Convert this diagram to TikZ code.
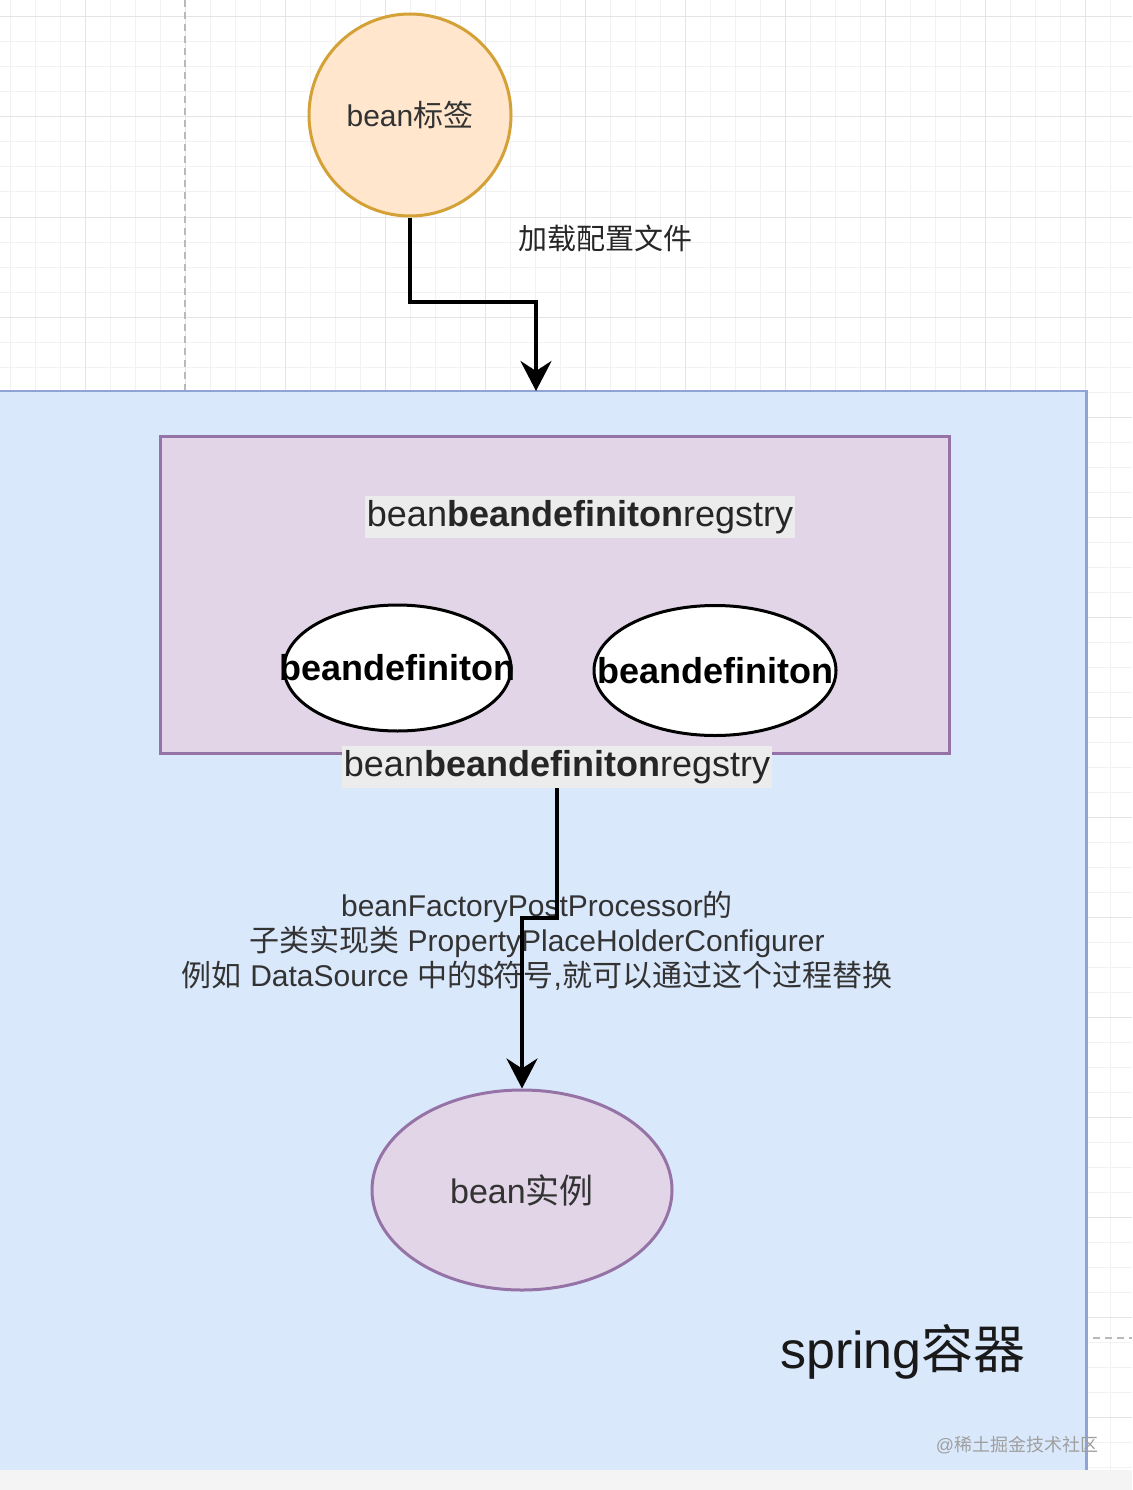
\documentclass[tikz,border=0pt]{standalone}
\usepackage{fontspec}
\setmainfont{Liberation Sans}
\newfontfamily\cjk{Noto Sans CJK SC}
\usetikzlibrary{arrows.meta,shapes.geometric}
\definecolor{gridminor}{HTML}{F2F2F2}
\definecolor{gridmajor}{HTML}{E4E4E4}
\definecolor{blueFill}{HTML}{DAE8FC}
\definecolor{blueLine}{HTML}{8FA3D6}
\definecolor{purpFill}{HTML}{E1D5E7}
\definecolor{purpLine}{HTML}{9673A6}
\definecolor{orgFill}{HTML}{FFE6CC}
\definecolor{orgLine}{HTML}{D4A137}
\definecolor{labBg}{HTML}{ECECEC}
\definecolor{txt}{HTML}{333333}
\newcommand{\zh}[1]{{\cjk #1}}
\tikzset{
  minorline/.style={draw=gridminor, line width=1pt},
  majorline/.style={draw=gridmajor, line width=1pt},
  guide/.style={draw=gray!55, line width=1.8pt, dash pattern=on 7pt off 5pt},
  flowarrow/.style={draw=black, line width=3.8pt, -{Stealth[length=30pt,width=31pt,inset=10pt]}},
  defell/.style={ellipse, draw=black, fill=white, line width=3pt, inner sep=0pt,
     font=\fontsize{36}{40}\selectfont\bfseries},
  reglab/.style={fill=labBg, inner xsep=2pt, inner ysep=4pt, font=\fontsize{36}{40}\selectfont, text=black!85},
  desc/.style={text=txt, align=center, font=\fontsize{30}{35}\selectfont},
}
\begin{document}
\begin{tikzpicture}[x=1pt,y=-1pt]
\useasboundingbox (0,0) rectangle (1132,1490);
\fill[white] (0,0) rectangle (1132,1490);
% grid
\foreach \x in {10,35,...,1132} \draw[minorline] (\x,0) -- (\x,1490);
\foreach \y in {17,42,...,1490} \draw[minorline] (0,\y) -- (1132,\y);
\foreach \x in {85,185,...,1132} \draw[majorline] (\x,0) -- (\x,1490);
\foreach \y in {17,117,...,1490} \draw[majorline] (0,\y) -- (1132,\y);
% dashed guides
\draw[guide] (185,0) -- (185,391);
\draw[guide] (1093,1338) -- (1132,1338);

% spring container
\node[fill=blueFill, minimum width=1096pt, minimum height=1079pt,
      anchor=north west, inner sep=0pt] (spring) at (-10,391) {};
\draw[blueLine, line width=2.5pt] (spring.north west) -- (spring.north east) -- (spring.south east);
\fill[gray!9] (0,1470) rectangle (1132,1490);
\node[anchor=center, text=black!90, font=\fontsize{52}{56}\selectfont] (springlab) at (903,1352) {spring\zh{容器}};
\node[text=gray!75, font=\fontsize{18}{20}\selectfont] (wm) at (1017,1445) {@\zh{稀土掘金技术社区}};

% registry
\node[draw=purpLine, fill=purpFill, line width=3pt, minimum width=789pt, minimum height=317pt,
      anchor=north west, inner sep=0pt] (reg) at (159,435) {};
\node[reglab] (lab1) at (580,517) {bean\textbf{beandefiniton}regstry};
\node[defell, minimum width=227pt, minimum height=126pt] (def1) at (397.5,668) {\makebox[0pt][c]{beandefiniton}};
\node[defell, minimum width=242pt, minimum height=130pt] (def2) at (715,670.5) {\makebox[0pt][c]{beandefiniton}};
\node[reglab] (lab2) at (557,767) {bean\textbf{beandefiniton}regstry};

% bean tag
\node[circle, draw=orgLine, fill=orgFill, line width=3pt, minimum size=202pt, inner sep=0pt,
      text=txt, font=\fontsize{30}{34}\selectfont] (tag) at (410,115) {bean\zh{标签}};
\node[text=black!85, font=\fontsize{29}{32}\selectfont] (loadlab) at (605,238) {\zh{加载配置文件}};

% bean instance
\node[ellipse, draw=purpLine, fill=purpFill, line width=3pt, minimum width=300pt, minimum height=200pt,
      inner sep=0pt, text=txt, font=\fontsize{34}{38}\selectfont] (inst) at (522,1190) {bean\zh{实例}};

% description
\node[desc] (desc) at (537,941) {beanFactoryPostProcessor\zh{的}\\
  \zh{子类实现类} PropertyPlaceHolderConfigurer\\
  \zh{例如} DataSource \zh{中的}\$\zh{符号},\zh{就可以通过这个过程替换}};

% connectors
\coordinate (j1) at (536,302);
\draw[flowarrow] (tag.south) |- (j1) -- (j1 |- spring.north);
\coordinate (j2) at (0,918);
\draw[flowarrow] (lab2.south) -- (lab2.south |- j2) -| (inst.north);
\end{tikzpicture}
\end{document}
